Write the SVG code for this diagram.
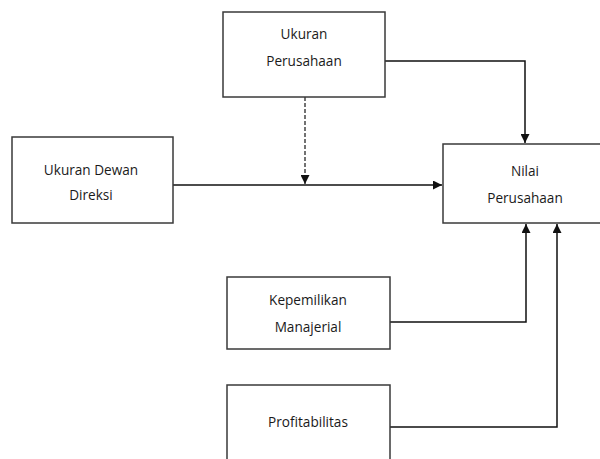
<svg xmlns="http://www.w3.org/2000/svg" width="600" height="459" viewBox="0 0 600 459">
<style>
.box{fill:#fff;stroke:#3a3a3a;stroke-width:1.5}
.t{font-family:"Open Sans","Noto Sans",sans-serif;font-size:13.6px;fill:#1a1a1a;text-anchor:middle}
.c{fill:none;stroke:#111;stroke-width:1.5}
.d{stroke-dasharray:4,2;stroke:#444}
</style>
<defs>
<marker id="ah" viewBox="0 0 10 10" refX="10" refY="5" markerWidth="9" markerHeight="9" markerUnits="userSpaceOnUse" orient="auto">
<path d="M0,0 L10,5 L0,10 z" fill="#111"/>
</marker>
</defs>
<rect width="600" height="459" fill="#fff"/>
<g id="connectors">
<path class="c" d="M385,61 H525 V143" marker-end="url(#ah)"/>
<path class="c" d="M173,185 H442" marker-end="url(#ah)"/>
<path class="c d" d="M305,97 V184" marker-end="url(#ah)"/>
<path class="c" d="M390,322 H526 V224" marker-end="url(#ah)"/>
<path class="c" d="M390,427 H557 V224" marker-end="url(#ah)"/>
</g>
<g id="ukuran-perusahaan">
<rect class="box" x="223" y="12" width="162" height="85"/>
<text class="t" x="304" y="39">Ukuran</text>
<text class="t" x="304" y="66">Perusahaan</text>
</g>
<g id="ukuran-dewan-direksi">
<rect class="box" x="12" y="137" width="161" height="86"/>
<text class="t" x="91" y="175">Ukuran Dewan</text>
<text class="t" x="91" y="200">Direksi</text>
</g>
<g id="nilai-perusahaan">
<rect class="box" x="443" y="144" width="170" height="79"/>
<text class="t" x="525" y="176">Nilai</text>
<text class="t" x="525" y="203">Perusahaan</text>
</g>
<g id="kepemilikan-manajerial">
<rect class="box" x="227" y="277" width="163" height="72"/>
<text class="t" x="308" y="305">Kepemilikan</text>
<text class="t" x="308" y="332">Manajerial</text>
</g>
<g id="profitabilitas">
<rect class="box" x="227" y="385" width="163" height="90"/>
<text class="t" x="308" y="427">Profitabilitas</text>
</g>
</svg>
